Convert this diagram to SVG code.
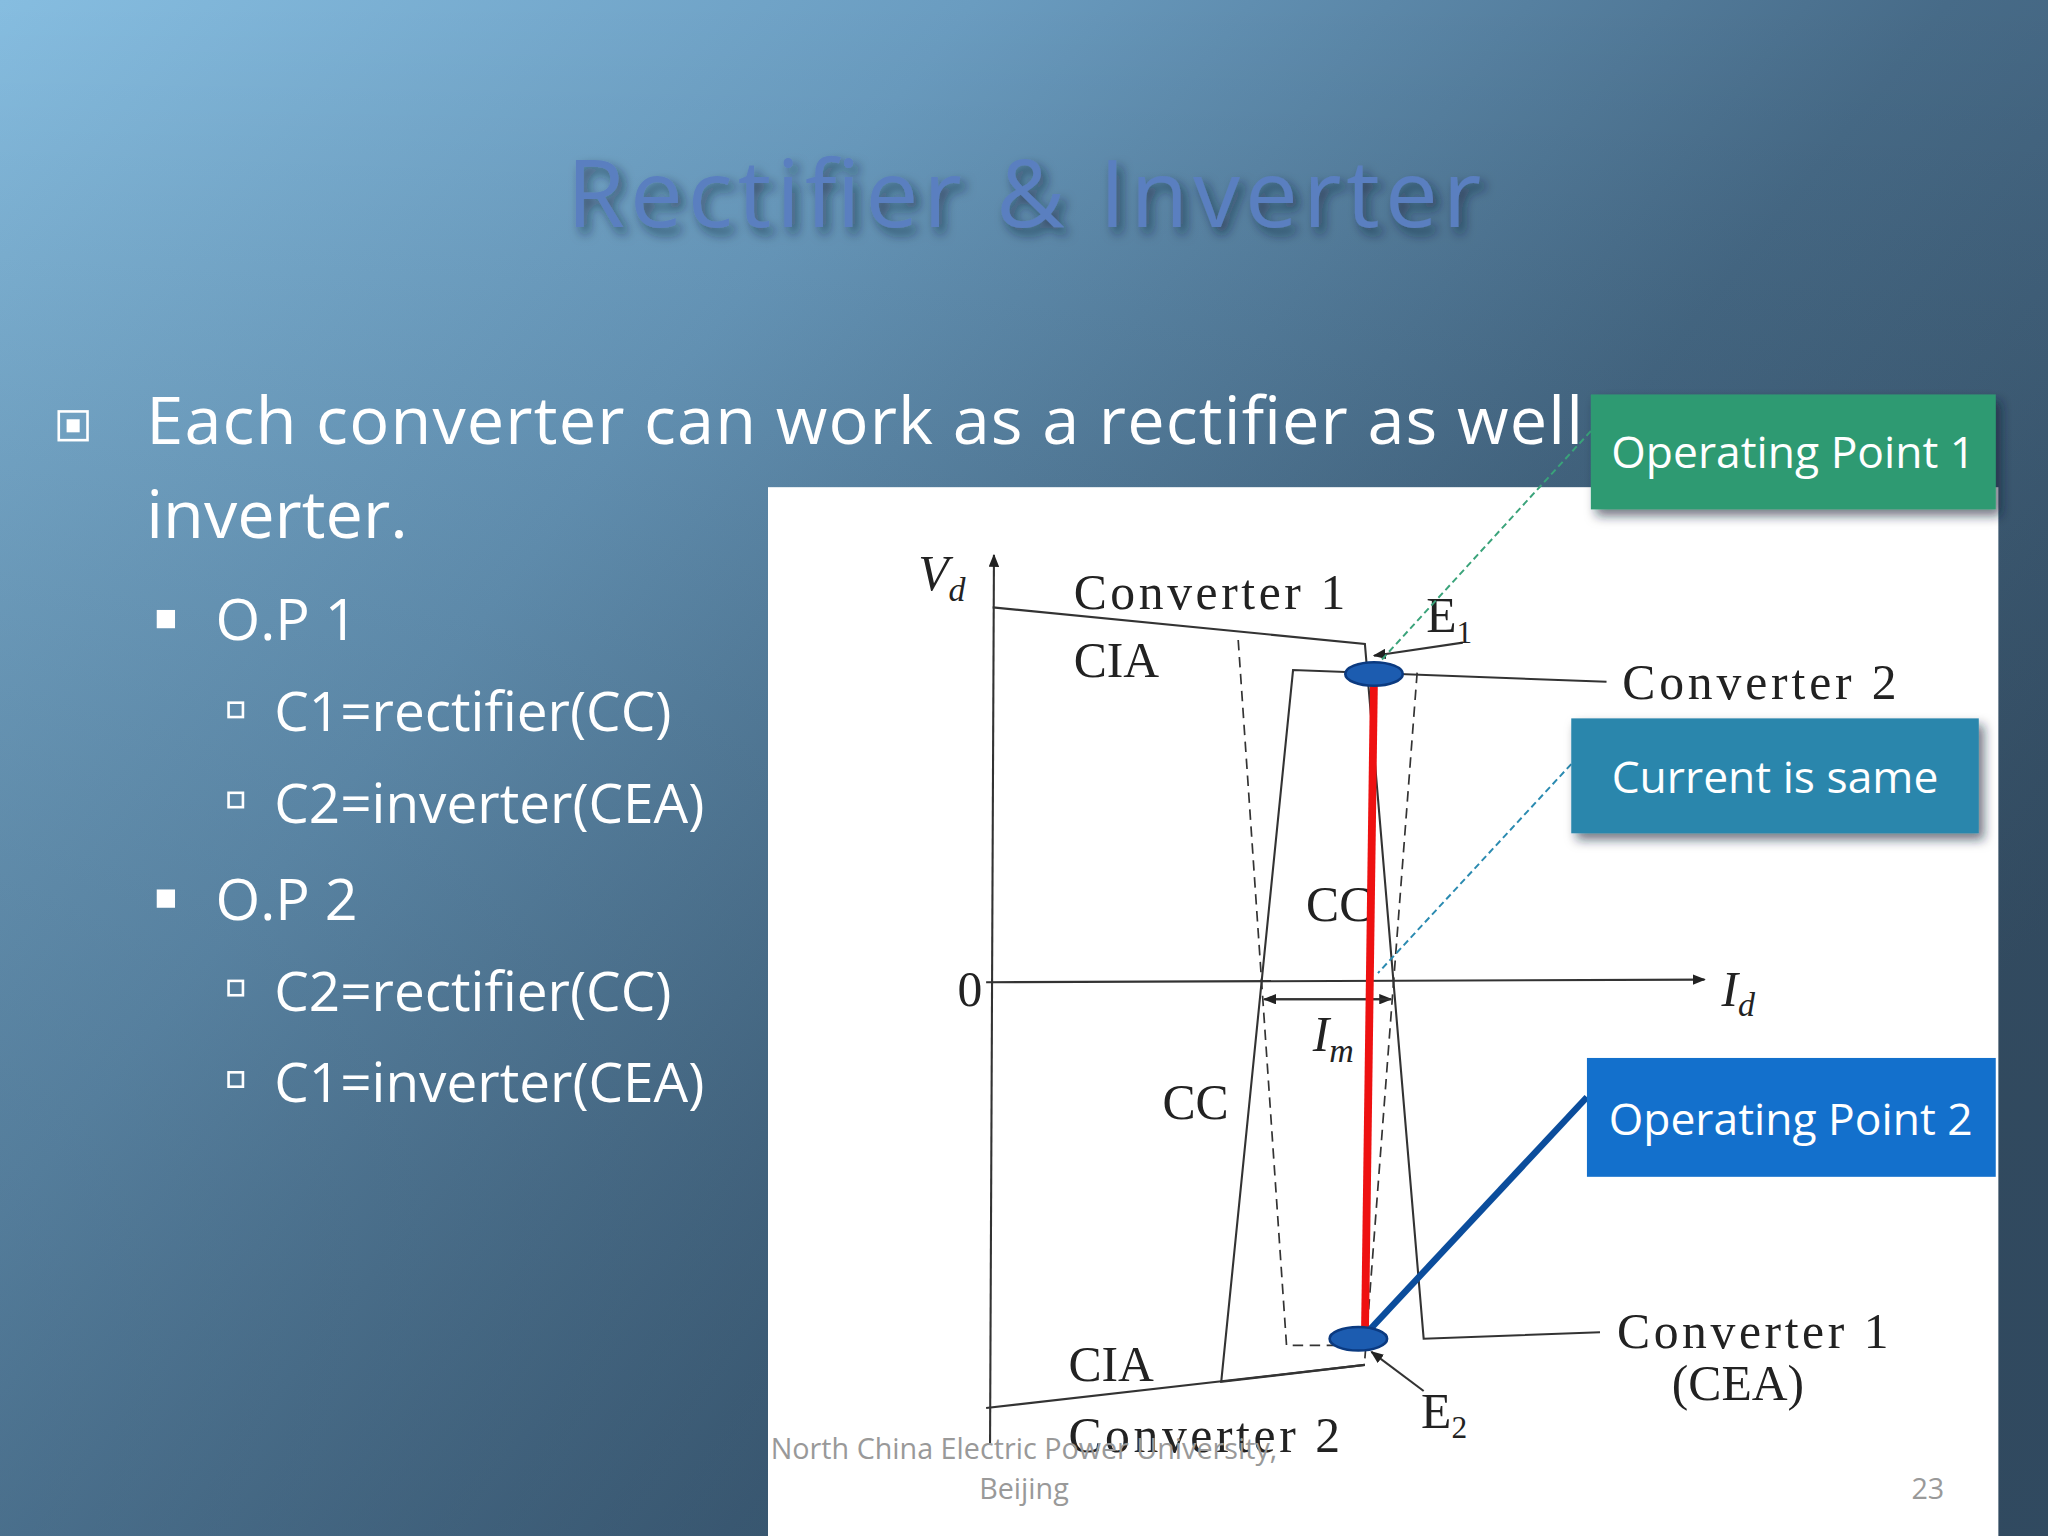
<svg xmlns="http://www.w3.org/2000/svg" width="2048" height="1536" viewBox="0 0 2048 1536">
<defs>
<linearGradient id="bg" x1="0" y1="0" x2="1" y2="0.6">
<stop offset="0" stop-color="#86bde0"/>
<stop offset="0.35" stop-color="#6a9cc0"/>
<stop offset="0.7" stop-color="#476b88"/>
<stop offset="1" stop-color="#3a566e"/>
</linearGradient>
<linearGradient id="bg2" x1="0" y1="0" x2="0" y2="1">
<stop offset="0" stop-color="#000" stop-opacity="0"/>
<stop offset="1" stop-color="#1f3346" stop-opacity="0.35"/>
</linearGradient>
<filter id="sh" x="-10%" y="-10%" width="120%" height="130%"><feDropShadow dx="4" dy="5" stdDeviation="4" flood-color="#123" flood-opacity="0.6"/></filter>
<marker id="ar" markerWidth="10" markerHeight="8" refX="9" refY="4" orient="auto" markerUnits="userSpaceOnUse"><path d="M0,0 L10,4 L0,8 z" fill="#222"/></marker>
<style>
.w{fill:#fff;font-family:"Open Sans","Noto Sans",sans-serif}
.c{fill:#222;font-family:"Liberation Serif",serif;font-size:38px}
.ln{stroke:#333;stroke-width:1.6;fill:none}
.ds{stroke:#333;stroke-width:1.3;fill:none;stroke-dasharray:8 5}
.bt{fill:#fff;font-family:"Open Sans","Noto Sans",sans-serif;font-size:34px}
</style>
</defs>
<rect width="2048" height="1536" fill="url(#bg)"/>
<rect width="2048" height="1536" fill="url(#bg2)"/>
<g transform="scale(1.30612)">
<text x="784" y="174" text-anchor="middle" font-family="Open Sans, Noto Sans, sans-serif" font-size="72" textLength="700" fill="#5a7fc0" filter="url(#sh)">Rectifier &amp; Inverter</text>
<g id="bullets">
<rect x="45" y="315" width="22" height="22" fill="none" stroke="#fff" stroke-width="2"/>
<rect x="51" y="321" width="10" height="10" fill="#fff"/>
<text class="w" x="112" y="340" font-size="51" textLength="1100">Each converter can work as a rectifier as well</text>
<text class="w" x="112" y="412" font-size="51">inverter.</text>
<rect x="120" y="467" width="14" height="14" fill="#fff"/>
<text class="w" x="165" y="490" font-size="44">O.P 1</text>
<rect x="175" y="538" width="11" height="11" fill="none" stroke="#fff" stroke-width="2"/>
<text class="w" x="210" y="560" font-size="42">C1=rectifier(CC)</text>
<rect x="175" y="607" width="11" height="11" fill="none" stroke="#fff" stroke-width="2"/>
<text class="w" x="210" y="630" font-size="42">C2=inverter(CEA)</text>
<rect x="120" y="681" width="14" height="14" fill="#fff"/>
<text class="w" x="165" y="704" font-size="44">O.P 2</text>
<rect x="175" y="751" width="11" height="11" fill="none" stroke="#fff" stroke-width="2"/>
<text class="w" x="210" y="774" font-size="42">C2=rectifier(CC)</text>
<rect x="175" y="821" width="11" height="11" fill="none" stroke="#fff" stroke-width="2"/>
<text class="w" x="210" y="844" font-size="42">C1=inverter(CEA)</text>
</g>
<g id="chart">
<rect x="588" y="373" width="942" height="803" fill="#fff"/>
<line class="ln" x1="758" y1="1105" x2="761" y2="425" marker-end="url(#ar)"/>
<line class="ln" x1="755" y1="752" x2="1305" y2="750" marker-end="url(#ar)"/>
<text class="c" x="703" y="452" font-style="italic">V<tspan font-size="26" dy="8">d</tspan></text>
<text class="c" x="733" y="770">0</text>
<text class="c" x="1318" y="770" font-style="italic">I<tspan font-size="26" dy="8">d</tspan></text>
<polyline class="ln" points="760,465 1045,493 1090,1025 1225,1020"/>
<polyline class="ln" points="755,1078 1045,1045"/>
<polyline class="ln" points="1230,522 990,513 935,1058 1045,1045"/>
<polyline class="ds" points="948,490 985,1030 1045,1030"/>
<polyline class="ds" points="1085,515 1045,1040"/>
<line class="ln" x1="968" y1="765" x2="1065" y2="765" marker-end="url(#ar)"/>
<line class="ln" x1="1065" y1="765" x2="968" y2="765" marker-end="url(#ar)"/>
<line class="ln" x1="1120" y1="492" x2="1052" y2="502" marker-end="url(#ar)"/>
<line class="ln" x1="1090" y1="1065" x2="1050" y2="1035" marker-end="url(#ar)"/>
<text class="c" x="822" y="466" textLength="208">Converter  1</text>
<text class="c" x="822" y="518">CIA</text>
<text class="c" x="1092" y="484">E<tspan font-size="24" dy="8">1</tspan></text>
<text class="c" x="1242" y="535" textLength="210">Converter  2</text>
<text class="c" x="1000" y="705">CC</text>
<text class="c" x="1005" y="805" font-style="italic">I<tspan font-size="26" dy="8">m</tspan></text>
<text class="c" x="890" y="857">CC</text>
<text class="c" x="818" y="1057">CIA</text>
<text class="c" x="818" y="1112" textLength="208">Converter  2</text>
<text class="c" x="1238" y="1032" textLength="208">Converter  1</text>
<text class="c" x="1280" y="1072">(CEA)</text>
<text class="c" x="1088" y="1093">E<tspan font-size="24" dy="8">2</tspan></text>
</g>
<g id="connectors">
<line x1="1052" y1="516" x2="1045" y2="1025" stroke="#ee1111" stroke-width="6"/>
<line x1="1218" y1="330" x2="1058" y2="505" stroke="#3aa37a" stroke-width="1.5" stroke-dasharray="5 3"/>
<line x1="1203" y1="585" x2="1055" y2="745" stroke="#2a8ab0" stroke-width="1.5" stroke-dasharray="5 3"/>
<line x1="1215" y1="840" x2="1045" y2="1022" stroke="#0b4d9c" stroke-width="5"/>
</g>
<ellipse cx="1052" cy="516" rx="22" ry="9" fill="#1c5cb0" stroke="#0b3a80" stroke-width="2"/>
<ellipse cx="1040" cy="1025" rx="22" ry="9" fill="#1c5cb0" stroke="#0b3a80" stroke-width="2"/>
<g id="op1"><rect x="1218" y="302" width="310" height="88" fill="#2e9a72" filter="url(#sh)"/><text class="bt" x="1373" y="358" text-anchor="middle">Operating Point 1</text></g>
<g id="same"><rect x="1203" y="550" width="312" height="88" fill="#2a86ac" filter="url(#sh)"/><text class="bt" x="1359" y="607" text-anchor="middle">Current is same</text></g>
<g id="op2"><rect x="1215" y="810" width="313" height="91" fill="#1370cc"/><text class="bt" x="1371" y="869" text-anchor="middle">Operating Point 2</text></g>
<text x="784" y="1117" text-anchor="middle" font-family="Open Sans, sans-serif" font-size="22" fill="#999">North China Electric Power University,</text>
<text x="784" y="1148" text-anchor="middle" font-family="Open Sans, sans-serif" font-size="22" fill="#999">Beijing</text>
<text x="1476" y="1148" text-anchor="middle" font-family="Open Sans, sans-serif" font-size="22" fill="#999">23</text>
</g>
</svg>
